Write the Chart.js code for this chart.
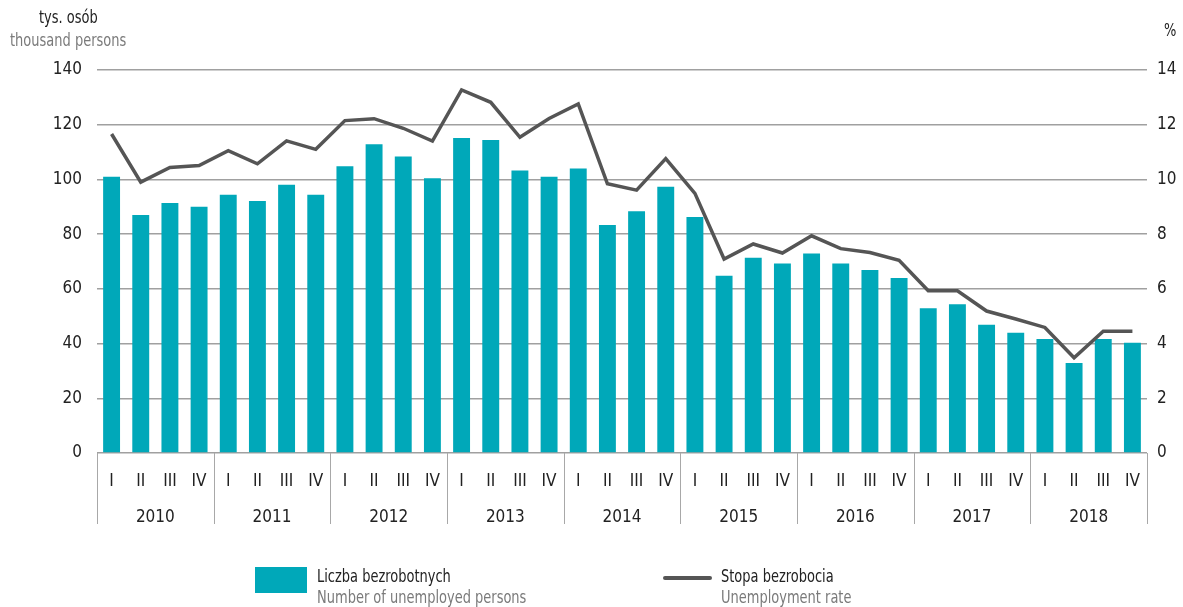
<!DOCTYPE html>
<html>
<head>
<meta charset="utf-8">
<script src="https://cdn.jsdelivr.net/npm/chart.js@4/dist/chart.umd.min.js"></script>
<style>
  html, body { margin: 0; padding: 0; background: #fff; }
  #wrap { position: relative; width: 1183px; height: 607px; font-family: "Liberation Sans Narrow", "DejaVu Sans Condensed", "Roboto Condensed", sans-serif; }
  canvas { position: absolute; left: 0; top: 0; }
  .t { position: absolute; white-space: nowrap; font-size: 17px; line-height: 20px; transform: scaleX(0.85); transform-origin: 0 50%; }
  .dark { color: #222; }
  .grey { color: #7a7a7a; }
</style>
</head>
<body>
<div id="wrap">
  <canvas id="c" width="1183" height="607"></canvas>
  <div class="t dark" style="left:39px; top:7px;">tys. osób</div>
  <div class="t grey" style="left:10px; top:30px;">thousand persons</div>
  <div class="t dark" style="left:1164px; top:20px;">%</div>
  <div style="position:absolute; left:255px; top:567px; width:52px; height:26px; background:#00A8B9;"></div>
  <div class="t dark" style="left:317px; top:566px;">Liczba bezrobotnych</div>
  <div class="t grey" style="left:317px; top:587px;">Number of unemployed persons</div>
  <div style="position:absolute; left:663px; top:576px; width:49px; height:4px; background:#555; border-radius:2px;"></div>
  <div class="t dark" style="left:721px; top:566px;">Stopa bezrobocia</div>
  <div class="t grey" style="left:721px; top:587px;">Unemployment rate</div>
</div>
<script>
const years = ["2010","2011","2012","2013","2014","2015","2016","2017","2018"];
const quarters = ["I","II","III","IV"];
const unemployed = [
  101, 87, 91.4, 90,
  94.4, 92.1, 98.1, 94.4,
  104.8, 112.9, 108.4, 100.4,
  115.1, 114.4, 103.3, 101,
  104, 83.3, 88.4, 97.3,
  86.3, 64.8, 71.4, 69.3,
  72.9, 69.3, 66.9, 64,
  52.9, 54.4, 46.9, 44,
  41.7, 32.9, 41.7, 40.3
];
const rate = [
  11.66, 9.9, 10.44, 10.51,
  11.05, 10.57, 11.41, 11.1,
  12.15, 12.22, 11.87, 11.4,
  13.27, 12.82, 11.54, 12.23,
  12.76, 9.84, 9.61, 10.76,
  9.49, 7.09, 7.64, 7.31,
  7.94, 7.47, 7.33, 7.04,
  5.93, 5.93, 5.19, 4.9,
  4.59, 3.48, 4.45, 4.45
];
const leftTicks = [0,20,40,60,80,100,120,140];
const rightTicks = [0,2,4,6,8,10,12,14];

const labels = [];
years.forEach(y => quarters.forEach(q => labels.push(q)));

const FONT = "'Liberation Sans Narrow', 'DejaVu Sans Condensed', sans-serif";

const yearPlugin = {
  id: 'years',
  afterDraw(chart) {
    const ctx = chart.ctx;
    const x = chart.scales.x;
    const area = chart.chartArea;
    const step = (x.getPixelForValue(1) - x.getPixelForValue(0));
    ctx.save();
    ctx.strokeStyle = '#a8a8a8';
    ctx.lineWidth = 1;
    for (let i = 0; i <= years.length; i++) {
      const px = Math.round(x.getPixelForValue(i * 4) - step / 2) + 0.5;
      ctx.beginPath();
      ctx.moveTo(px, area.bottom);
      ctx.lineTo(px, area.bottom + 71);
      ctx.stroke();
    }
    ctx.fillStyle = '#222';
    ctx.font = "17px " + FONT;
    ctx.textAlign = 'center';
    ctx.textBaseline = 'middle';
    years.forEach((y, i) => {
      const cx = (x.getPixelForValue(i * 4) + x.getPixelForValue(i * 4 + 3)) / 2;
      ctx.fillText(y, cx, area.bottom + 65);
    });
    ctx.restore();
  }
};

new Chart(document.getElementById('c'), {
  type: 'bar',
  data: {
    labels: labels,
    datasets: [
      {
        type: 'line',
        data: rate,
        yAxisID: 'y2',
        borderColor: '#555555',
        borderWidth: 3.5,
        pointRadius: 0,
        tension: 0,
        order: 0,
        borderJoinStyle: 'miter'
      },
      {
        type: 'bar',
        data: unemployed,
        yAxisID: 'y',
        backgroundColor: '#00A8B9',
        barPercentage: 0.58,
        categoryPercentage: 1,
        order: 1
      }
    ]
  },
  options: {
    responsive: false,
    animation: false,
    devicePixelRatio: 1,
    layout: { padding: { top: 70, left: 0, right: 0, bottom: 0 } },
    plugins: { legend: { display: false }, tooltip: { enabled: false } },
    scales: {
      x: {
        grid: { display: false },
        border: { display: false },
        ticks: { color: '#222', font: { family: FONT, size: 17 }, padding: 10, maxRotation: 0, autoSkip: false },
        afterFit(s) { s.height = 154; }
      },
      y: {
        position: 'left',
        min: 0, max: 140,
        afterBuildTicks(s) { s.ticks = leftTicks.map(v => ({ value: v })); },
        grid: { color: '#a0a0a0', lineWidth: 1.5, drawTicks: false },
        border: { display: false },
        ticks: { color: '#222', font: { family: FONT, size: 17 }, padding: 15 },
        afterFit(s) { s.width = 97; }
      },
      y2: {
        position: 'right',
        min: 0, max: 14,
        afterBuildTicks(s) { s.ticks = rightTicks.map(v => ({ value: v })); },
        grid: { display: false, drawTicks: false },
        border: { display: false },
        ticks: { color: '#222', font: { family: FONT, size: 17 }, padding: 10 },
        afterFit(s) { s.width = 36; }
      }
    }
  },
  plugins: [yearPlugin]
});
</script>
</body>
</html>
